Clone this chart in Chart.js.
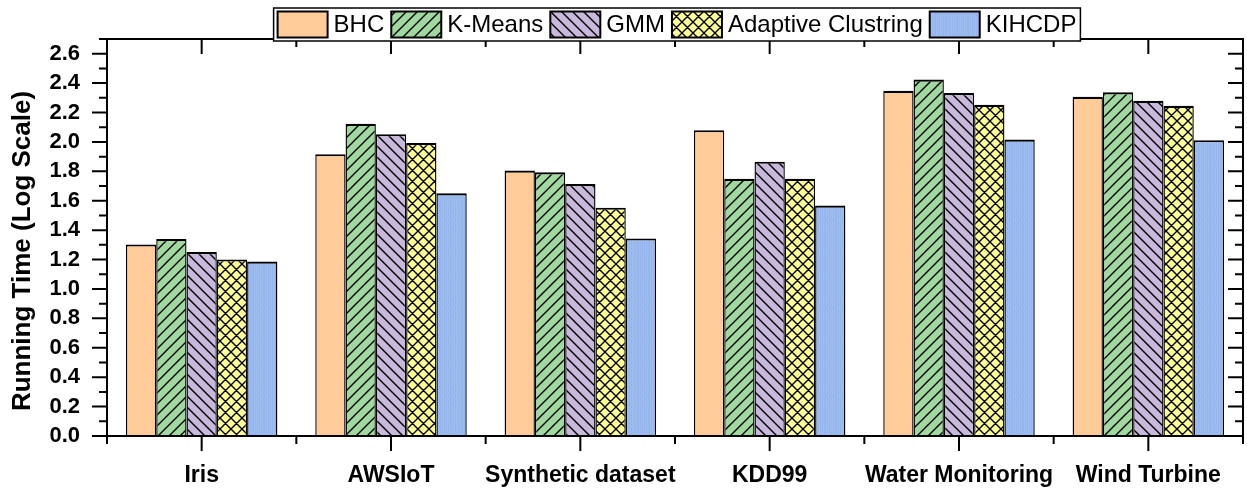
<!DOCTYPE html>
<html><head><meta charset="utf-8">
<script src="https://cdn.jsdelivr.net/npm/chart.js@4.4.1/dist/chart.umd.min.js"></script>
<style>html,body{margin:0;padding:0;background:#fff;}#wrap{width:1247px;height:491px;}</style>
</head><body><div id="wrap"><canvas id="c" width="1247" height="491"></canvas></div>
<script>
const categories = ['Iris', 'AWSIoT', 'Synthetic dataset', 'KDD99', 'Water Monitoring', 'Wind Turbine'];
const seriesNames = ['BHC', 'K-Means', 'GMM', 'Adaptive Clustring', 'KIHCDP'];
const bhc = [1.303, 1.917, 1.805, 2.080, 2.348, 2.307];
const kmeans = [1.339, 2.123, 1.794, 1.750, 2.425, 2.337];
const gmm = [1.251, 2.053, 1.714, 1.866, 2.333, 2.280];
const adaptive = [1.201, 1.992, 1.553, 1.750, 2.253, 2.246];
const kihcdp = [1.187, 1.651, 1.344, 1.567, 2.016, 2.012];
const yTickLabels = ['0.0','0.2','0.4','0.6','0.8','1.0','1.2','1.4','1.6','1.8','2.0','2.2','2.4','2.6'];
const yTitle = 'Running Time (Log Scale)';

const FONT = '"Liberation Sans", Arial, sans-serif';
const canvas = document.getElementById('c');
const ctx0 = canvas.getContext('2d');

function makePattern(bg, type) {
  const s = 11;
  const c = document.createElement('canvas');
  c.width = s; c.height = s;
  const g = c.getContext('2d');
  g.fillStyle = bg; g.fillRect(0, 0, s, s);
  if (type === 'dots') {
    g.fillStyle = 'rgba(110,140,210,0.25)';
    for (let i = 0; i < s; i += 2) for (let j = (i / 2) % 2; j < s; j += 2) g.fillRect(i, j, 1, 1);
    return ctx0.createPattern(c, 'repeat');
  }
  g.strokeStyle = '#000'; g.lineWidth = 1.4;
  g.beginPath();
  if (type === 'fwd' || type === 'cross') {
    g.moveTo(-2, s + 2); g.lineTo(s + 2, -2);
    g.moveTo(-2, 2); g.lineTo(2, -2);
    g.moveTo(s - 2, s + 2); g.lineTo(s + 2, s - 2);
  }
  if (type === 'back' || type === 'cross') {
    g.moveTo(-2, -2); g.lineTo(s + 2, s + 2);
    g.moveTo(s - 2, -2); g.lineTo(s + 2, 2);
    g.moveTo(-2, s - 2); g.lineTo(2, s + 2);
  }
  g.stroke();
  return ctx0.createPattern(c, 'repeat');
}

const fills = [
  '#FFCC99',
  makePattern('#A0D8A0', 'fwd'),
  makePattern('#C8B8DC', 'back'),
  makePattern('#FFFF99', 'cross'),
  makePattern('#9DBCF0', 'dots')
];
const seriesData = [bhc, kmeans, gmm, adaptive, kihcdp];

const framePlugin = {
  id: 'frame',
  afterDatasetsDraw(chart) {
    const { ctx, chartArea: a, scales } = chart;
    const ys = scales.y, xs = scales.x;
    ctx.save();
    ctx.strokeStyle = '#000';
    ctx.lineWidth = 2;
    ctx.strokeRect(a.left, a.top, a.right - a.left, a.bottom - a.top);
    ctx.beginPath();
    for (let k = 0; k <= 27; k++) {
      const y = ys.getPixelForValue(k / 10);
      const L = (k % 2 === 0) ? 15 : 8;
      ctx.moveTo(a.left - L, y); ctx.lineTo(a.left, y);
      ctx.moveTo(a.right - L, y); ctx.lineTo(a.right, y);
    }
    for (let i = 0; i < categories.length; i++) {
      const xc = xs.getPixelForValue(i);
      ctx.moveTo(xc, a.bottom); ctx.lineTo(xc, a.bottom + 15);
      ctx.moveTo(xc, a.top); ctx.lineTo(xc, a.top + 15);
    }
    for (let i = 0; i <= categories.length; i++) {
      const xb = xs.getPixelForValue(i - 0.5);
      ctx.moveTo(xb, a.bottom); ctx.lineTo(xb, a.bottom + 8);
      ctx.moveTo(xb, a.top); ctx.lineTo(xb, a.top + 8);
    }
    ctx.stroke();
    // y axis title
    ctx.save();
    ctx.translate(23, 251);
    ctx.rotate(-Math.PI / 2);
    ctx.font = 'bold 26px ' + FONT;
    ctx.fillStyle = '#000';
    ctx.textAlign = 'center';
    ctx.textBaseline = 'middle';
    ctx.fillText(yTitle, 0, 0);
    ctx.restore();
    ctx.restore();
  }
};

const legendPlugin = {
  id: 'customLegend',
  afterDraw(chart) {
    const ctx = chart.ctx;
    ctx.save();
    ctx.font = '24px ' + FONT;
    const sw = 50, sh = 26, gapT = 6, gapI = 7, padX = 4;
    const widths = seriesNames.map(n => ctx.measureText(n).width);
    let total = padX * 2 + seriesNames.length * (sw + gapT) + widths.reduce((p, q) => p + q, 0) + gapI * (seriesNames.length - 1);
    const top = 8, h = 33;
    let x = 677 - total / 2;
    ctx.fillStyle = '#fff';
    ctx.fillRect(x, top, total, h);
    ctx.strokeStyle = '#000'; ctx.lineWidth = 1.5;
    ctx.strokeRect(x, top, total, h);
    x += padX;
    ctx.textBaseline = 'middle';
    seriesNames.forEach((n, i) => {
      const by = top + (h - sh) / 2;
      ctx.fillStyle = fills[i];
      ctx.fillRect(x, by, sw, sh);
      ctx.lineWidth = 2; ctx.strokeStyle = '#000';
      ctx.strokeRect(x, by, sw, sh);
      x += sw + gapT;
      ctx.fillStyle = '#000';
      ctx.fillText(n, x, top + h / 2 + 1);
      x += widths[i] + gapI;
    });
    ctx.restore();
  }
};

new Chart(canvas, {
  type: 'bar',
  data: {
    labels: categories,
    datasets: seriesNames.map((n, i) => ({
      label: n,
      data: seriesData[i],
      backgroundColor: fills[i],
      borderColor: '#000',
      borderWidth: { top: 2.2, left: 1.4, right: 1.4, bottom: 0 },
      borderSkipped: false,
      categoryPercentage: 0.8,
      barPercentage: 1.0
    }))
  },
  options: {
    responsive: false,
    animation: false,
    devicePixelRatio: 1,
    layout: { padding: { top: 39, right: 4, left: 0, bottom: 0 } },
    plugins: { legend: { display: false }, tooltip: { enabled: false } },
    scales: {
      x: {
        grid: { display: false },
        border: { display: false },
        ticks: { color: '#000', font: { family: FONT, size: 23, weight: 'bold' }, padding: 18, maxRotation: 0, autoSkip: false },
        afterFit(s) { s.height = 55; }
      },
      y: {
        min: 0, max: 2.7,
        grid: { display: false },
        border: { display: false },
        ticks: {
          stepSize: 0.1, autoSkip: false, color: '#000', padding: 19,
          font: { family: FONT, size: 22, weight: 'bold' },
          callback(v) { const k = Math.round(v * 10); return (k % 2 === 0 && k / 2 < yTickLabels.length) ? yTickLabels[k / 2] : ''; }
        },
        title: { display: false },
        afterFit(s) { s.width = 107; }
      }
    }
  },
  plugins: [framePlugin, legendPlugin]
});
</script>
</body></html>
